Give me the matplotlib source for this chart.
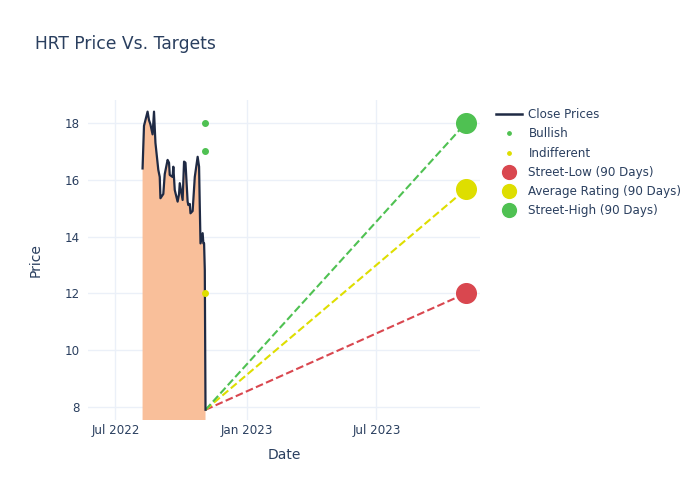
import matplotlib
matplotlib.use("Agg")
import matplotlib.pyplot as plt
import matplotlib.dates as mdates
from matplotlib.lines import Line2D
import pandas as pd

# close prices
price_dates = [
    "2022-08-08", "2022-08-10", "2022-08-12", "2022-08-15", "2022-08-17", "2022-08-19",
    "2022-08-22", "2022-08-24", "2022-08-26", "2022-08-30", "2022-09-01", "2022-09-02",
    "2022-09-06", "2022-09-08", "2022-09-12", "2022-09-14", "2022-09-15", "2022-09-19",
    "2022-09-20", "2022-09-22", "2022-09-26", "2022-09-28", "2022-09-29", "2022-10-03",
    "2022-10-05", "2022-10-07", "2022-10-10", "2022-10-11", "2022-10-13", "2022-10-14",
    "2022-10-17", "2022-10-20", "2022-10-24", "2022-10-26", "2022-10-27", "2022-10-28",
    "2022-10-31", "2022-11-01", "2022-11-02", "2022-11-03", "2022-11-04",
]
close_prices = [
    16.4, 17.9, 18.1, 18.4, 18.1, 17.95,
    17.6, 18.4, 17.3, 16.35, 16.1, 15.35,
    15.5, 16.2, 16.7, 16.6, 16.17, 16.1,
    16.46, 15.64, 15.23, 15.5, 15.88, 15.29,
    16.64, 16.6, 15.23, 15.11, 15.15, 14.82,
    14.9, 16.1, 16.81, 16.46, 15.05, 13.76,
    14.12, 13.76, 13.76, 12.82, 7.9,
]

rating_date = "2022-11-03"
bullish_targets = [18, 17]
indifferent_targets = [12]

target_date = "2023-11-03"
street_low = 12
average_rating = 15.67
street_high = 18

text_color = "#2a3f5f"
grid_color = "#ebf0f8"
red = "#d9474f"
yellow = "#dede00"
green = "#4fc152"

dates = pd.to_datetime(price_dates)
rd = pd.Timestamp(rating_date)
td = pd.Timestamp(target_date)
last_date = dates[-1]
last_price = close_prices[-1]

fig = plt.figure(figsize=(7, 5), dpi=100)
ax = fig.add_axes([0.126, 0.16, 0.56, 0.64])

ax.fill_between(dates, 0, close_prices, color="#f9bf9a", linewidth=0, zorder=1)
ax.plot(dates, close_prices, color="#1f2a44", linewidth=1.6, zorder=3)

ax.plot([last_date, td], [last_price, street_low], color=red, linestyle="--", linewidth=1.5, zorder=2)
ax.plot([last_date, td], [last_price, average_rating], color=yellow, linestyle="--", linewidth=1.5, zorder=2)
ax.plot([last_date, td], [last_price, street_high], color=green, linestyle="--", linewidth=1.5, zorder=2)

ax.scatter([rd] * len(bullish_targets), bullish_targets, s=16, color=green, zorder=4)
ax.scatter([rd] * len(indifferent_targets), indifferent_targets, s=16, color=yellow, zorder=4)

ax.scatter([td], [street_low], s=200, color=red, zorder=5)
ax.scatter([td], [average_rating], s=200, color=yellow, zorder=5)
ax.scatter([td], [street_high], s=200, color=green, zorder=5)

ax.set_xlim(pd.Timestamp("2022-05-24"), pd.Timestamp("2023-11-23"))
ax.set_ylim(7.54, 18.81)
ax.set_yticks([8, 10, 12, 14, 16, 18])
ax.xaxis.set_major_locator(mdates.MonthLocator(bymonth=[1, 7]))
ax.xaxis.set_major_formatter(mdates.DateFormatter("%b %Y"))

for s in ax.spines.values():
    s.set_visible(False)
ax.grid(True, color=grid_color, linewidth=1)
ax.set_axisbelow(True)
ax.tick_params(axis="x", length=0, labelsize=8.6, colors=text_color, pad=3)
ax.tick_params(axis="y", length=0, labelsize=8.6, colors=text_color, pad=6)

ax.set_xlabel("Date", fontsize=10, color=text_color, labelpad=8)
ax.set_ylabel("Price", fontsize=10, color=text_color, labelpad=16)

fig.text(0.05, 0.912, "HRT Price Vs. Targets", fontsize=12.3, color=text_color, va="center")

handles = [
    Line2D([0], [0], color="#1f2a44", linewidth=1.8, label="Close Prices"),
    Line2D([0], [0], marker="o", color="w", markerfacecolor=green, markersize=4.5, label="Bullish"),
    Line2D([0], [0], marker="o", color="w", markerfacecolor=yellow, markersize=4.5, label="Indifferent"),
    Line2D([0], [0], marker="o", color="w", markerfacecolor=red, markersize=12, label="Street-Low (90 Days)"),
    Line2D([0], [0], marker="o", color="w", markerfacecolor=yellow, markersize=12, label="Average Rating (90 Days)"),
    Line2D([0], [0], marker="o", color="w", markerfacecolor=green, markersize=12, label="Street-High (90 Days)"),
]
leg = fig.legend(handles=handles, loc="upper left", bbox_to_anchor=(0.702, 0.793), frameon=False,
                 fontsize=8.6, labelcolor=text_color, handlelength=2.2, handletextpad=0.5,
                 labelspacing=0.52, borderaxespad=0)

fig.savefig("out.png", dpi=100)
